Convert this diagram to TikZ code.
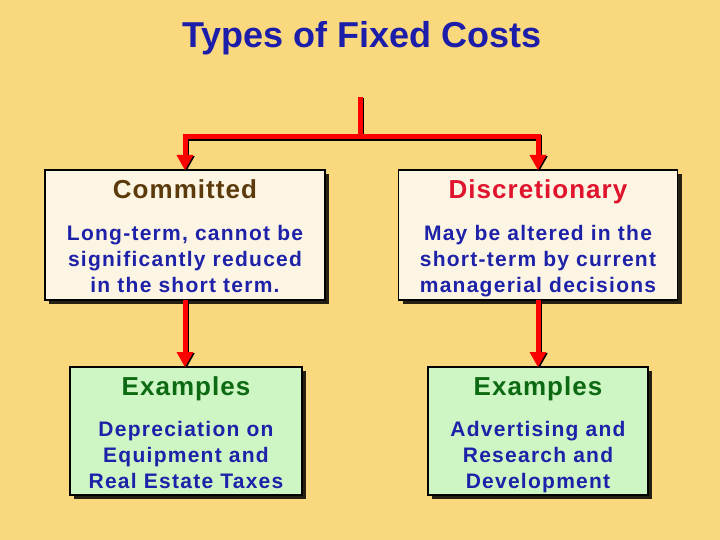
\documentclass[tikz,border=0pt]{standalone}
\usepackage{fontspec}
\setmainfont{Liberation Sans}
\newfontfamily\headsans[LetterSpace=4]{Liberation Sans}
\newfontfamily\bodysans[LetterSpace=6]{Liberation Sans}
\usepackage{tikz}
\usetikzlibrary{positioning,shadows,arrows.meta}

\definecolor{slidebg}{RGB}{250,216,125}
\definecolor{titleblue}{RGB}{28,30,170}
\definecolor{bodyblue}{RGB}{30,34,168}
\definecolor{paper}{RGB}{252,245,228}
\definecolor{mint}{RGB}{206,245,196}
\definecolor{headbrown}{RGB}{92,58,12}
\definecolor{headred}{RGB}{224,20,45}
\definecolor{headgreen}{RGB}{12,106,18}

\tikzset{
  costbox/.style={draw=black, line width=1.5pt, fill=paper, inner sep=0pt, outer sep=0pt,
    drop shadow={shadow xshift=4pt, shadow yshift=-4pt, fill=black, opacity=0.85}},
  examplebox/.style={costbox, fill=mint},
  boxhead/.style={inner sep=0pt, font=\headsans\bfseries\fontsize{26}{30}\selectfont,
    text height=18.5pt, text depth=5pt},
  boxbody/.style={inner sep=0pt, align=center, text=bodyblue,
    font=\bodysans\bfseries\fontsize{21}{26}\selectfont},
  feed/.style={draw=red, line width=5pt, -{Triangle[length=15pt,width=17pt,line width=0pt]},
    preaction={draw=black, line width=6pt, transform canvas={xshift=1.2pt,yshift=-1.2pt}}},
}

\begin{document}
\begin{tikzpicture}[x=1pt,y=-1pt]
  \fill[slidebg] (0,0) rectangle (720,540);
  \useasboundingbox (0,0) rectangle (720,540);

  \node[text=titleblue, font=\bfseries\fontsize{36}{42}\selectfont] (title) at (362,38) {Types of Fixed Costs};

  % the two kinds
  \node[costbox, minimum width=280pt, minimum height=130pt] (committed) at (185,235) {};
  \node[costbox, minimum width=279pt, minimum height=130pt] (discr) at (538,235) {};
  \node[boxhead, text=headbrown, below=10pt of committed.north] (committedhead) {Committed};
  \node[boxhead, text=headred, below=10pt of discr.north] (discrhead) {Discretionary};
  \node[boxbody, below=55pt of committed.north] (committedtext)
    {Long-term, cannot be\\significantly reduced\\in the short term.};
  \node[boxbody, below=55pt of discr.north] (discrtext)
    {May be altered in the\\short-term by current\\managerial decisions};

  % examples
  \node[examplebox, minimum width=232pt, minimum height=128pt] (exleft) at (186,431) {};
  \node[examplebox, minimum width=220pt, minimum height=128pt] (exright) at (538,431) {};
  \node[boxhead, text=headgreen, below=10pt of exleft.north] (exlefthead) {Examples};
  \node[boxhead, text=headgreen, below=10pt of exright.north] (exrighthead) {Examples};
  \node[boxbody, below=54pt of exleft.north] (exlefttext)
    {Depreciation on\\Equipment and\\Real Estate Taxes};
  \node[boxbody, below=54pt of exright.north] (exrighttext)
    {Advertising and\\Research and\\Development};

  % connectors
  \coordinate (top) at (360,97);
  \coordinate (fork) at (360,137);
  \draw[feed, -] (top) -- (fork);
  \draw[feed] (fork) -| (committed.north);
  \draw[feed] (fork) -| (discr.north);
  \draw[feed] (committed.south) -- (committed.south |- exleft.north);
  \draw[feed] (discr.south) -- (discr.south |- exright.north);
\end{tikzpicture}
\end{document}
